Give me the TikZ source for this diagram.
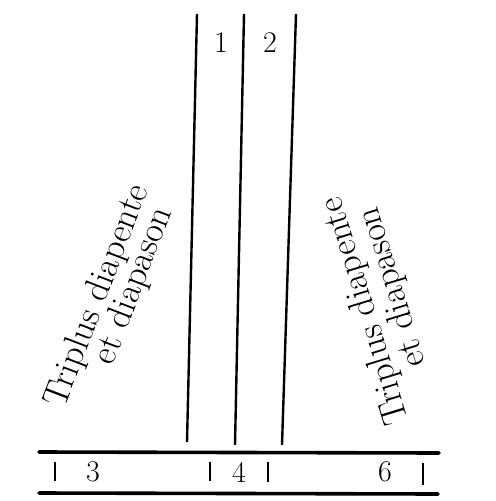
\documentclass[tikz,border=0pt]{standalone}
\usepackage{tikz}
\usetikzlibrary{positioning}

\begin{document}
\begin{tikzpicture}[x=0.5pt,y=0.5pt,
  pipe/.style={line width=1.2pt, black},
  rule/.style={line width=1.8pt, line cap=round, black},
  tickmark/.style={line width=1.1pt, black},
  num/.style={inner sep=0pt, font=\fontsize{15}{18}\selectfont},
  legend/.style={inner sep=0pt, font=\fontsize{18}{21}\selectfont},
  legendleft/.style={legend, rotate=69},
  legendright/.style={legend, rotate=107}]
\useasboundingbox (0,0) rectangle (495,-501);
% the three pipes
\draw [pipe] (197,-14) -- (187,-442);
\draw [pipe] (244,-14) -- (235,-445);
\draw [pipe] (296,-14) -- (282,-445);
% the scale below
\draw [rule] (39,-452) -- (439,-453);
\draw [rule] (39,-493) -- (438,-494);
\draw [tickmark] (55,-462) -- (55,-481);
\draw [tickmark] (210,-462) -- (210,-481);
\draw [tickmark] (268,-462) -- (268,-482);
\draw [tickmark] (423,-463) -- (423,-485);
\node [num] (one) at (221,-43) {1};
\node [num] (two) at (270,-43) {2};
\node [num] (three) at (93,-472) {3};
\node [num] (four) at (239,-472) {4};
\node [num] (six) at (385,-472) {6};
% legends on both sides
\node [legendleft] (leftupper) at (98,-296) {Triplus diapente};
\node [legendleft] (leftlower) at (134,-286) {et diapason};
\node [legendright] (rightupper) at (366,-311) {Triplus diapente};
\node [legendright] (rightlower) at (393,-287) {et diapason};
\end{tikzpicture}
\end{document}
